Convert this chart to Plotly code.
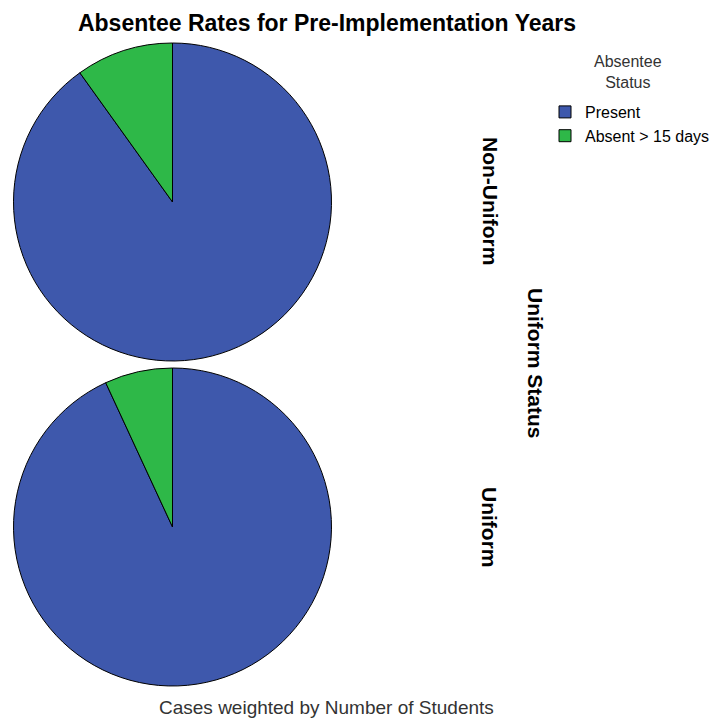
import plotly.graph_objects as go

labels = ["Present", "Absent > 15 days"]
colors = ["#3E58AC", "#2EB848"]
groups = ["Non-Uniform", "Uniform"]
present_pct = [90.1, 93.1]
absent_pct = [9.9, 6.9]

W, H = 710, 719

def px_x(a, b):
    return [a / W, b / W]

def px_y(top, bottom):
    return [1 - bottom / H, 1 - top / H]

domains = [
    dict(x=px_x(13, 332), y=px_y(43, 361)),
    dict(x=px_x(13, 332), y=px_y(368, 686)),
]

fig = go.Figure()
for i, g in enumerate(groups):
    fig.add_trace(go.Pie(
        labels=labels,
        values=[present_pct[i], absent_pct[i]],
        name=g,
        sort=False,
        direction="clockwise",
        rotation=0,
        textinfo="none",
        hoverinfo="label+percent",
        marker=dict(colors=colors, line=dict(color="#000000", width=1)),
        domain=domains[i],
        showlegend=(i == 0),
    ))

font = "Liberation Sans, Arial, sans-serif"
fig.update_layout(
    width=W, height=H,
    margin=dict(l=0, r=0, t=0, b=0, autoexpand=False),
    paper_bgcolor="white",
    plot_bgcolor="white",
    font=dict(family=font, color="#000000"),
    title=dict(text="<b>Absentee Rates for Pre-Implementation Years</b>",
               x=327 / W, xanchor="center", y=1 - 23 / H, yanchor="middle",
               font=dict(size=23, family=font, color="#000000")),
    legend=dict(
        x=545 / W, xanchor="left", y=1 - 95 / H, yanchor="top",
        font=dict(size=16, color="#000000", family=font),
        bgcolor="rgba(0,0,0,0)",
        traceorder="normal",
        tracegroupgap=0,
    ),
    annotations=[
        dict(text="Absentee<br>Status", x=628 / W, y=1 - 72 / H, xref="paper", yref="paper",
             showarrow=False, align="center", font=dict(size=16, family=font, color="#333333"),
             xanchor="center", yanchor="middle"),
        dict(text="<b>Non-Uniform</b>", x=490 / W, y=1 - 201 / H, xref="paper", yref="paper",
             textangle=90, showarrow=False, font=dict(size=21, family=font, color="#000000"),
             xanchor="center", yanchor="middle"),
        dict(text="<b>Uniform</b>", x=490 / W, y=1 - 527 / H, xref="paper", yref="paper",
             textangle=90, showarrow=False, font=dict(size=21, family=font, color="#000000"),
             xanchor="center", yanchor="middle"),
        dict(text="<b>Uniform Status</b>", x=536 / W, y=1 - 363 / H, xref="paper", yref="paper",
             textangle=90, showarrow=False, font=dict(size=21, family=font, color="#000000"),
             xanchor="center", yanchor="middle"),
        dict(text="Cases weighted by Number of Students", x=326 / W, y=1 - 707 / H,
             xref="paper", yref="paper", showarrow=False,
             font=dict(size=19, family=font, color="#333333"),
             xanchor="center", yanchor="middle"),
    ],
)

fig.write_html("out.html", config={"displayModeBar": False},
               post_script="document.body.style.margin='0';document.body.style.overflow='hidden';")
